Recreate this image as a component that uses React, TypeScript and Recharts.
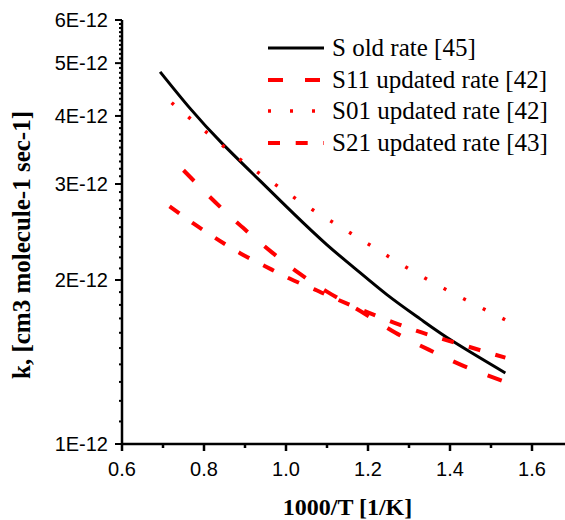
import React from 'react'
import { LineChart, Line, XAxis, YAxis, Legend } from 'recharts'

// k values are in units of 1E-12 cm3 molecule-1 sec-1
const xOld = [0.693, 0.766, 0.843, 0.937, 1.018, 1.10, 1.165, 1.246, 1.328, 1.409, 1.535]
const kOld = [4.82, 4.13, 3.57, 3.04, 2.65, 2.32, 2.11, 1.88, 1.695, 1.54, 1.35]

const xS11 = [0.750, 0.827, 0.896, 0.965, 1.035, 1.112, 1.189, 1.267, 1.348, 1.434, 1.535]
const kS11 = [3.18, 2.78, 2.49, 2.25, 2.05, 1.88, 1.74, 1.60, 1.49, 1.39, 1.30]

const xS01 = [0.721, 0.803, 0.888, 0.975, 1.065, 1.157, 1.249, 1.342, 1.438, 1.535]
const kS01 = [4.23, 3.75, 3.33, 2.99, 2.69, 2.44, 2.21, 2.01, 1.84, 1.69]

const xS21 = [0.716, 0.774, 0.831, 0.888, 0.949, 1.010, 1.071, 1.112, 1.263, 1.393, 1.535]
const kS21 = [2.73, 2.54, 2.38, 2.24, 2.12, 2.01, 1.92, 1.86, 1.67, 1.55, 1.44]

const xTicks = [0.6, 0.7, 0.8, 0.9, 1.0, 1.1, 1.2, 1.3, 1.4, 1.5, 1.6, 1.7]
const yTicks = [
  1, 1.1, 1.2, 1.3, 1.4, 1.5, 1.6, 1.7, 1.8, 1.9,
  2, 2.1, 2.2, 2.3, 2.4, 2.5, 2.6, 2.7, 2.8, 2.9,
  3, 3.1, 3.2, 3.3, 3.4, 3.5, 3.6, 3.7, 3.8, 3.9,
  4, 4.1, 4.2, 4.3, 4.4, 4.5, 4.6, 4.7, 4.8, 4.9,
  5, 5.1, 5.2, 5.3, 5.4, 5.5, 5.6, 5.7, 5.8, 5.9, 6,
]

const zip = (xs: number[], ks: number[]) => xs.map((x, i) => ({ x, k: ks[i] }))

const series = [
  { name: 'S old rate [45]', data: zip(xOld, kOld), color: '#000', width: 3, dash: undefined },
  { name: 'S11 updated rate [42]', data: zip(xS11, kS11), color: '#ff0000', width: 4, dash: '15 22' },
  { name: 'S01 updated rate [42]', data: zip(xS01, kS01), color: '#ff0000', width: 3.5, dash: '3 19' },
  { name: 'S21 updated rate [43]', data: zip(xS21, kS21), color: '#ff0000', width: 4, dash: '12 15.7' },
]

const SANS = '"Liberation Sans", Arial, sans-serif'
const SERIF = '"Liberation Serif", "Times New Roman", serif'

const isMajorX = (v: number) => Math.round(v * 10) % 2 === 0 && v < 1.65

function BottomTick(props: any) {
  const { x, y, payload } = props
  const v = payload.value as number
  const major = isMajorX(v)
  return (
    <g>
      <line x1={x} x2={x} y1={y} y2={y + (major ? 7 : 4)} stroke="#000" strokeWidth={2.5} />
      {major && (
        <text x={x} y={y + 32} textAnchor="middle" fontFamily={SANS} fontSize={20} fill="#000">
          {v.toFixed(1)}
        </text>
      )}
    </g>
  )
}

function TopTick(props: any) {
  const { x, y } = props
  return <line x1={x} x2={x} y1={y} y2={y + 3} stroke="#000" strokeWidth={2} />
}

function LeftTick(props: any) {
  const { x, y, payload } = props
  const v = payload.value as number
  const major = Math.abs(v - Math.round(v)) < 1e-6
  return (
    <g>
      <line x1={x - (major ? 7 : 3)} x2={x} y1={y} y2={y} stroke="#000" strokeWidth={2} />
      {major && (
        <text x={x - 14} y={y} dy="0.36em" textAnchor="end" fontFamily={SANS} fontSize={20} fill="#000">
          {`${v}E-12`}
        </text>
      )}
    </g>
  )
}

function XLabel(props: any) {
  const vb = props.viewBox
  return (
    <text x={vb.x + vb.width / 2} y={vb.y + 71} textAnchor="middle"
      fontFamily={SERIF} fontWeight="bold" fontSize={24} fill="#000">
      1000/T [1/K]
    </text>
  )
}

function YLabel(props: any) {
  const vb = props.viewBox
  const cx = 30
  const cy = vb.y + vb.height / 2 + 13
  return (
    <text x={cx} y={cy} transform={`rotate(-90 ${cx} ${cy})`} textAnchor="middle"
      fontFamily={SERIF} fontWeight="bold" fontSize={25} fill="#000">
      k, [cm3 molecule-1 sec-1]
    </text>
  )
}

function LegendBox() {
  return (
    <div style={{ fontFamily: SERIF, fontSize: 25, color: '#000' }}>
      {series.map(s => (
        <div key={s.name} style={{ display: 'flex', alignItems: 'center', height: 31.7, whiteSpace: 'nowrap' }}>
          <svg width={56} height={10} style={{ marginRight: 8 }}>
            <line x1={0} x2={56} y1={5} y2={5} stroke={s.color} strokeWidth={s.width} strokeDasharray={s.dash} />
          </svg>
          <span>{s.name}</span>
        </div>
      ))}
    </div>
  )
}

export default function App() {
  return (
    <div style={{ position: 'absolute', left: 0, top: 0, width: 565, height: 520, overflow: 'hidden', background: '#fff' }}>
      <LineChart width={573} height={520} margin={{ top: 20, right: 0, bottom: 0, left: 0 }}>
        <XAxis
          dataKey="x" type="number" domain={[0.6, 1.7]} ticks={xTicks} interval={0}
          height={76} tickSize={0} tickMargin={0} tickLine={false}
          axisLine={{ stroke: '#000', strokeWidth: 2.5 }}
          tick={<BottomTick />} label={<XLabel />} allowDataOverflow
        />
        <XAxis
          xAxisId="top" orientation="top" dataKey="x" type="number" domain={[0.6, 1.7]}
          ticks={xTicks} interval={0} height={0} tickSize={0} tickMargin={0} tickLine={false}
          axisLine={{ stroke: '#000', strokeWidth: 2.5 }} tick={<TopTick />} allowDataOverflow
        />
        <YAxis
          type="number" scale="log" domain={[1, 6]} ticks={yTicks} interval={0}
          width={122} tickSize={0} tickMargin={0} tickLine={false}
          axisLine={{ stroke: '#000', strokeWidth: 2.5 }}
          tick={<LeftTick />} label={<YLabel />} allowDataOverflow
        />
        <Legend
          layout="vertical" align="center" verticalAlign="middle"
          wrapperStyle={{ position: 'absolute', left: 268, top: 32, width: 300 }}
          content={() => <LegendBox />}
        />
        {series.map(s => (
          <Line
            key={s.name} data={s.data} dataKey="k" name={s.name} type="natural"
            stroke={s.color} strokeWidth={s.width} strokeDasharray={s.dash}
            dot={false} activeDot={false} isAnimationActive={false}
          />
        ))}
      </LineChart>
    </div>
  )
}
